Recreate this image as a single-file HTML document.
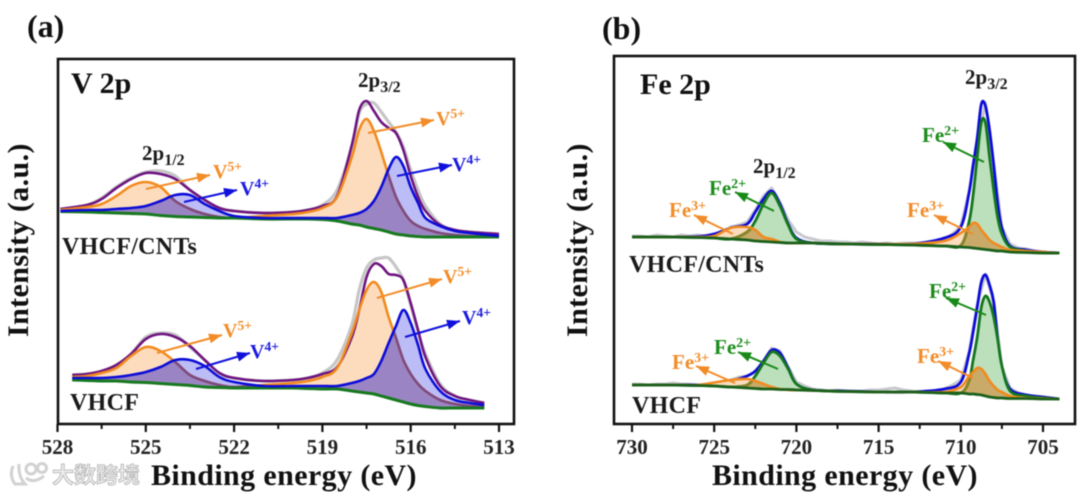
<!DOCTYPE html>
<html lang="en">
<head>
<meta charset="utf-8">
<title>XPS spectra: V 2p and Fe 2p</title>
<style>
html,body{margin:0;padding:0;background:#fff;width:1080px;height:495px;overflow:hidden}
svg{display:block;filter:blur(.4px)}
text{font-family:"Liberation Serif","Noto Sans CJK SC",serif;fill:#111}
.b{font-weight:bold}
.tick{font-size:21px;font-weight:bold;text-anchor:middle;fill:#222}
.title{font-size:30px;font-weight:bold;letter-spacing:.4px}
.sample{font-size:24px;font-weight:bold;fill:#1a1a1a;letter-spacing:.3px}
.peak{font-size:21px;font-weight:bold;fill:#1a1a1a}
.peak tspan{font-size:16px}
.ion{font-size:20px;font-weight:bold}
.ion tspan{font-size:13.5px}
.fe{font-size:21px}
.fe tspan{font-size:14px}
.or{fill:#f28c28}.bl{fill:#1a1ae0}.gr{fill:#1c8c1c}
.wm{font-family:"Noto Sans CJK SC","WenQuanYi Zen Hei",sans-serif;font-size:22px;font-weight:bold;fill:#ececec;stroke:#b4b4b4;stroke-width:.8px}
</style>
</head>
<body>
<svg id="figure" xmlns="http://www.w3.org/2000/svg" width="1080" height="495" viewBox="0 0 1080 495">
  <defs>
    <marker id="head-orange" markerUnits="userSpaceOnUse" markerWidth="14" markerHeight="10" refX="13" refY="5" orient="auto"><path d="M0 0L13 5L0 10Z" fill="#f28c28"/></marker>
    <marker id="head-blue" markerUnits="userSpaceOnUse" markerWidth="14" markerHeight="10" refX="13" refY="5" orient="auto"><path d="M0 0L13 5L0 10Z" fill="#1010dc"/></marker>
    <marker id="head-green" markerUnits="userSpaceOnUse" markerWidth="14" markerHeight="10" refX="13" refY="5" orient="auto"><path d="M0 0L13 5L0 10Z" fill="#178a17"/></marker>
  </defs>
  <g id="plots"></g>

  <g>
    <text class="b" x="27" y="37" font-size="32">(a)</text>
    <text class="b" x="71" y="93" font-size="30">V 2p</text>
    <text class="peak" x="142" y="160">2p<tspan dy="5">1/2</tspan></text>
    <text class="peak" x="358" y="87">2p<tspan dy="5">3/2</tspan></text>
    <text class="sample" x="62" y="254">VHCF/CNTs</text>
    <text class="sample" x="70" y="410">VHCF</text>
    <text class="title" transform="translate(28,337) rotate(-90)">Intensity (a.u.)</text>
    <text class="title" x="151" y="485">Binding energy (eV)</text>

    <text class="ion or" x="213" y="178">V<tspan dy="-7">5+</tspan></text>
    <text class="ion bl" x="240" y="195">V<tspan dy="-7">4+</tspan></text>
    <text class="ion or" x="436" y="125">V<tspan dy="-7">5+</tspan></text>
    <text class="ion bl" x="452" y="171">V<tspan dy="-7">4+</tspan></text>
    <text class="ion or" x="223" y="337">V<tspan dy="-7">5+</tspan></text>
    <text class="ion bl" x="250" y="358">V<tspan dy="-7">4+</tspan></text>
    <text class="ion or" x="443" y="283">V<tspan dy="-7">5+</tspan></text>
    <text class="ion bl" x="462" y="324">V<tspan dy="-7">4+</tspan></text>

    <line x1="146" y1="189" x2="210" y2="175" stroke="#f28c28" stroke-width="2" marker-end="url(#head-orange)"/>
    <line x1="184" y1="202" x2="237" y2="190" stroke="#1010dc" stroke-width="2" marker-end="url(#head-blue)"/>
    <line x1="368" y1="133" x2="434" y2="120" stroke="#f28c28" stroke-width="2" marker-end="url(#head-orange)"/>
    <line x1="397" y1="176" x2="452" y2="165" stroke="#1010dc" stroke-width="2" marker-end="url(#head-blue)"/>
    <line x1="157" y1="353" x2="222" y2="335" stroke="#f28c28" stroke-width="2" marker-end="url(#head-orange)"/>
    <line x1="196" y1="369" x2="250" y2="353" stroke="#1010dc" stroke-width="2" marker-end="url(#head-blue)"/>
    <line x1="377" y1="298" x2="442" y2="279" stroke="#f28c28" stroke-width="2" marker-end="url(#head-orange)"/>
    <line x1="405" y1="337" x2="460" y2="321" stroke="#1010dc" stroke-width="2" marker-end="url(#head-blue)"/>
  </g>

  <g>
    <text class="b" x="602" y="39" font-size="32">(b)</text>
    <text class="b" x="640" y="94" font-size="30">Fe 2p</text>
    <text class="peak" x="753" y="173">2p<tspan dy="5">1/2</tspan></text>
    <text class="peak" x="965" y="84">2p<tspan dy="5">3/2</tspan></text>
    <text class="sample" x="629" y="272">VHCF/CNTs</text>
    <text class="sample" x="632" y="413">VHCF</text>
    <text class="title" transform="translate(587,337) rotate(-90)">Intensity (a.u.)</text>
    <text class="title" x="712" y="485">Binding energy (eV)</text>

    <text class="ion fe gr" x="709" y="195">Fe<tspan dy="-7">2+</tspan></text>
    <text class="ion fe or" x="669" y="217">Fe<tspan dy="-7">3+</tspan></text>
    <text class="ion fe gr" x="922" y="142">Fe<tspan dy="-7">2+</tspan></text>
    <text class="ion fe or" x="907" y="217">Fe<tspan dy="-7">3+</tspan></text>
    <text class="ion fe gr" x="714" y="354">Fe<tspan dy="-7">2+</tspan></text>
    <text class="ion fe or" x="672" y="369">Fe<tspan dy="-7">3+</tspan></text>
    <text class="ion fe gr" x="929" y="298">Fe<tspan dy="-7">2+</tspan></text>
    <text class="ion fe or" x="917" y="363">Fe<tspan dy="-7">3+</tspan></text>

    <line x1="774" y1="211" x2="735" y2="192" stroke="#178a17" stroke-width="2" marker-end="url(#head-green)"/>
    <line x1="733" y1="234" x2="694" y2="215" stroke="#f28c28" stroke-width="2" marker-end="url(#head-orange)"/>
    <line x1="984" y1="162" x2="943" y2="142" stroke="#178a17" stroke-width="2" marker-end="url(#head-green)"/>
    <line x1="973" y1="234" x2="934" y2="215" stroke="#f28c28" stroke-width="2" marker-end="url(#head-orange)"/>
    <line x1="778" y1="369" x2="738" y2="352" stroke="#178a17" stroke-width="2" marker-end="url(#head-green)"/>
    <line x1="735" y1="383" x2="696" y2="366" stroke="#f28c28" stroke-width="2" marker-end="url(#head-orange)"/>
    <line x1="986" y1="315" x2="946" y2="298" stroke="#178a17" stroke-width="2" marker-end="url(#head-green)"/>
    <line x1="973" y1="378" x2="938" y2="361" stroke="#f28c28" stroke-width="2" marker-end="url(#head-orange)"/>
  </g>

  <g>
    <g fill="none" stroke="#d2d2d2" stroke-width="3">
      <path d="M13 466 Q9 476 15 484 L25 484 Q18 476 19 464"/>
      <circle cx="31" cy="469" r="5"/>
      <circle cx="42" cy="468" r="4.5"/>
      <path d="M26 478 Q34 484 44 476"/>
    </g>
    <text class="wm" x="52" y="483">大数跨境</text>
  </g>
</svg>

<script>
// ---------- Panel (a): V 2p ----------
const vEnergiesTop = [527.9,527,526.5,526,525.5,525,524.5,524,523.5,523,522.5,522,521,520,519.5,519,518.5,518,517.75,517.5,517.25,517,516.75,516.5,516.25,516,515.75,515.5,515,514.5,514,513];
const vEnergiesBottom = [527.5,527,526.5,526,525.5,525,524.5,524,523.5,523,522.5,522,521,520,519.5,519,518.5,518,517.75,517.5,517.25,517,516.75,516.5,516.25,516,515.75,515.5,515,514.5,514,513.5];

const vTopRaw = [215,219,226,237,246,252,253,248,234,224,216,213,211,212,214,219,234,277,311,320,321,312,302,292,277,254,234,218,200,194,192,190];
const vTopEnvelope = [215,219,225,236,245,251,250,245,234,224,216,213,211,212,214,218,228,279,314,323,313,302,296,291,274,248,227,213,199,194,192,190];
const vTopV5 = [214,217,220,228,238,242,237,223,215,210,207,206,208,210,212,216,227,267,294,305,293,272,248,227,213,203,198,195,191,189,188,187];
const vTopV4 = [213,214,214,215,216,218,223,229,229,220,213,208,206,206,206,206,206,209,211,215,223,237,255,267,258,237,221,206,198,193,191,188];
const vTopBackground = [212.5,212,211.5,211,210.5,210,208.5,207.5,207,206.5,206,206,205,205,205,204.5,203,200,199,197,195.5,194,192,190,189,188,187.5,187,187,187,187,187];

const vBottomRaw = [49,50,53,59,70,87,91,89,77,64,51,46,43,44,46,51,64,99,134,156,164,166,166,157,144,119,92,70,40,28,24,21];
const vBottomEnvelope = [49,50,53,59,70,85,90,87,78,64,51,46,43,44,46,50,57,87,114,147,160,158,150,149,144,121,94,67,38,28,24,21];
const vBottomV5 = [47,48,51,56,68,77,73,62,49,43,39,37,39,41,43,47,56,91,114,134,142,132,107,86,64,50,40,33,24,20,18,17];
const vBottomV4 = [46,46,46,47,49,52,57,64,64,58,47,42,38,38,38,38,38,41,43,46,50,63,81,98,114,101,79,55,33,24,21,19];
const vBottomBackground = [44,43.5,43,43,42,41.5,40.5,39.5,38.5,37,36.5,36,36,36,35.5,35,35,33,32,31,30,28,26,24,22,20,18.5,17.5,16,16,16,16];

const vMajorTicks = [528,525,522,519,516,513];
const vMinorTicks = [526.5,523.5,520.5,517.5,514.5];
const vTickLabels = ["528","525","522","519","516","513"];

// ---------- Panel (b): Fe 2p ----------
const feEnergies = [730,728,726,725,724,723,722.5,722,721.5,721,720.5,720,719,717,715,713,711,710,709.5,709.25,709,708.75,708.5,708.25,708,707.75,707.5,707,706,705,704];
const feRawEnergies = [730,729.5,729,728.5,728,727.5,727,726.5,726,725.5,725,724.5,724,723.5,723,722.5,722,721.5,721,720.5,720,719.5,719,718.5,718,717.5,717,716.5,716,715.5,715,714.5,714,713.5,713,712.5,712,711.5,711,710.5,710,709.5,709,708.5,708,707.5,707,706.5,706,705.5,705,704.5,704];

const feTopRaw = [188,188,187,189,188,187,189,188,189,188,190,190,197,199,202,214,228,236,222,204,192,187,185,183,183,182,182,181,182,181,180,181,180,181,181,180,181,181,185,190,198,232,282,321,260,197,180,176,175,173,172,171,171];
const feTopEnvelope = [187,187,187.5,190,196,200,212,225,233,220,200,186,181,180,180,180,186,197,231,259,286,320,318,294,259,220,196,178,174,172,171];
const feTopFe2 = [187,187,186.5,186,185,192,203,220,231,218,199,185,181,180,179.5,179,178,178.5,202,229,267,302,301,267,234,206,190,177,173,171,171];
const feTopFe3 = [187,187,187,188,196,197,194,187,185,182,181,181,181,180,180,180,183,191,197,201,200,194,189,184,181,179,177,174,173,172,171];
const feTopBackground = [187,187,186.5,186,185,184,183,182.5,182,181.5,181,181,181,180,179.5,179,178,177,176.5,176,175.5,175,174.5,174,173.5,173,173,172,171.5,171,171];

const feBottomRaw = [40,40,39,40,40,41,40,40,39,40,41,42,44,47,48,52,63,76,73,57,42,38,35,34,33,34,33,33,33,34,34,35,36,34,33,32,32,33,35,39,44,72,119,150,122,57,36,31,29,28,27,26,25];
const feBottomEnvelope = [39,39,39,40,43,48,53,63,74,71,56,40,34,33,32,32,35,42,70,92,117,142,149,139,122,84,57,35,29,27,25];
const feBottomFe2 = [39,39,38.5,38,37,39,48,61,72,68,55,40,34,32.5,32,32,31,31,43,64,87,117,128,122,107,84,58,33,28,26,25];
const feBottomFe3 = [39,39,39,41.5,44,45,43,40,37,35,34,34,33.5,32.5,32,32,32,37,48,52,56,55,50,43,38,34,32,28,26,25.5,25];
const feBottomBackground = [39,39,38.5,38,37,36,35.5,35,35,34.5,34.5,34,33.5,32.5,32,32,31,31,30,30,29.5,29,28,27,26.5,26,26,25.5,25.5,25,25];

const feMajorTicks = [730,725,720,715,710,705];
const feMinorTicks = [727.5,722.5,717.5,712.5,707.5];
const feTickLabels = ["730","725","720","715","710","705"];

// ---------- Axis functions ----------
function xV(e){ return 57.5 + (528 - e) * (499 - 57.5) / 15; }
function yV(v){ return 424 - v * (424 - 59) / 365; }
function xFe(e){ return 632 + (730 - e) * (1043 - 632) / 25; }
function yFe(v){ return 424 - v * (424 - 56) / 368; }

const SVG_NS = "http://www.w3.org/2000/svg";
const layer = document.getElementById("plots");
const defs = document.querySelector("#figure defs");
let clipCounter = 0;

function pts(energies, values, fx, fy){
  const out = [];
  const n = Math.min(energies.length, values.length);
  for (let i = 0; i < n; i++) out.push([fx(energies[i]), fy(values[i])]);
  return out;
}
function curveSeg(p){
  let d = "";
  for (let i = 0; i < p.length - 1; i++){
    const p0 = p[Math.max(i-1,0)], p1 = p[i], p2 = p[i+1], p3 = p[Math.min(i+2,p.length-1)];
    const c1x = p1[0] + (p2[0]-p0[0])/6, c1y = p1[1] + (p2[1]-p0[1])/6;
    const c2x = p2[0] - (p3[0]-p1[0])/6, c2y = p2[1] - (p3[1]-p1[1])/6;
    d += "C" + c1x.toFixed(2) + " " + c1y.toFixed(2) + " " + c2x.toFixed(2) + " " + c2y.toFixed(2) + " " + p2[0].toFixed(2) + " " + p2[1].toFixed(2);
  }
  return d;
}
function lineD(p){ return "M" + p[0][0].toFixed(2) + " " + p[0][1].toFixed(2) + curveSeg(p); }
function areaD(top, base){
  const rev = base.slice().reverse();
  return lineD(top) + "L" + rev[0][0].toFixed(2) + " " + rev[0][1].toFixed(2) + curveSeg(rev) + "Z";
}
function makePath(d, fill, stroke, width, name, clipId){
  const el = document.createElementNS(SVG_NS, "path");
  el.setAttribute("d", d);
  el.setAttribute("fill", fill);
  el.setAttribute("stroke", stroke);
  el.setAttribute("stroke-width", width);
  el.setAttribute("stroke-linejoin", "round");
  if (clipId) el.setAttribute("clip-path", "url(#" + clipId + ")");
  
  
  layer.appendChild(el);
  return el;
}
function makeClip(d){
  const id = "clip-" + (clipCounter++);
  const c = document.createElementNS(SVG_NS, "clipPath");
  c.setAttribute("id", id);
  const p = document.createElementNS(SVG_NS, "path");
  p.setAttribute("d", d);
  c.appendChild(p);
  defs.appendChild(c);
  return id;
}
function drawVSpectrum(prefix, energies, raw, env, v5, v4, bg){
  const pRaw = pts(energies, raw, xV, yV), pEnv = pts(energies, env, xV, yV);
  const p5 = pts(energies, v5, xV, yV), p4 = pts(energies, v4, xV, yV), pBg = pts(energies, bg, xV, yV);
  const a5 = areaD(p5, pBg), a4 = areaD(p4, pBg);
  const clip = makeClip(a4);
  makePath(lineD(pRaw), "none", "#c6c6c6", 3.2, prefix + "-raw-data");
  makePath(a5, "#fcdcbd", "none", 0, prefix + "-v5-fill");
  makePath(a4, "#bcbcf6", "none", 0, prefix + "-v4-fill");
  makePath(a5, "#9b84c4", "none", 0, prefix + "-overlap-fill", clip);
  makePath(lineD(pEnv), "none", "#6e1480", 2.6, prefix + "-envelope");
  makePath(lineD(p5), "none", "#f28a1e", 2.6, prefix + "-v5-line");
  makePath(lineD(p5), "none", "#7c4a80", 2.6, prefix + "-v5-line-overlap", clip);
  makePath(lineD(pBg), "none", "#17791f", 3, prefix + "-background");
  makePath(lineD(p4), "none", "#0c0cd8", 2.6, prefix + "-v4-line");
}
function drawFeSpectrum(prefix, raw, env, fe2, fe3, bg){
  const pRaw = pts(feRawEnergies, raw, xFe, yFe), pEnv = pts(feEnergies, env, xFe, yFe);
  const p2 = pts(feEnergies, fe2, xFe, yFe), p3 = pts(feEnergies, fe3, xFe, yFe), pBg = pts(feEnergies, bg, xFe, yFe);
  const a2 = areaD(p2, pBg), a3 = areaD(p3, pBg);
  const clip = makeClip(a3);
  let rawD = "M" + pRaw.map(function(q){ return q[0].toFixed(1) + " " + q[1].toFixed(1); }).join("L");
  makePath(rawD, "none", "#c8c8d0", 3, prefix + "-raw-data");
  makePath(lineD(pEnv), "none", "#0c0cd8", 2.8, prefix + "-envelope");
  makePath(a2, "#bcdfbc", "none", 0, prefix + "-fe2-fill");
  makePath(a3, "#fbdcbc", "none", 0, prefix + "-fe3-fill");
  makePath(a2, "#c9aa68", "none", 0, prefix + "-overlap-fill", clip);
  makePath(lineD(p2), "none", "#14761e", 2.8, prefix + "-fe2-line");
  makePath(lineD(p2), "none", "#8a8428", 2.8, prefix + "-fe2-line-overlap", clip);
  makePath(lineD(p3), "none", "#f28a1e", 2.6, prefix + "-fe3-line");
  makePath(lineD(pBg), "none", "#1b601b", 2.8, prefix + "-background");
}
function drawAxes(prefix, fx, left, top, right, bottom, majors, minors, labels){
  const frame = document.createElementNS(SVG_NS, "rect");
  frame.setAttribute("x", left);
  frame.setAttribute("y", top);
  frame.setAttribute("width", right - left);
  frame.setAttribute("height", bottom - top);
  frame.setAttribute("fill", "none");
  frame.setAttribute("stroke", "#111");
  frame.setAttribute("stroke-width", "2.6");
  
  
  layer.appendChild(frame);
  majors.forEach(function(t, i){
    const tk = document.createElementNS(SVG_NS, "line");
    tk.setAttribute("x1", fx(t));
    tk.setAttribute("x2", fx(t));
    tk.setAttribute("y1", bottom);
    tk.setAttribute("y2", bottom + 8);
    tk.setAttribute("stroke", "#111");
    tk.setAttribute("stroke-width", "2.2");
    
    
    layer.appendChild(tk);
    const lb = document.createElementNS(SVG_NS, "text");
    lb.setAttribute("x", fx(t));
    lb.setAttribute("y", 454);
    lb.setAttribute("class", "tick");
    lb.textContent = labels[i];
    
    
    layer.appendChild(lb);
  });
  minors.forEach(function(t){
    const tk = document.createElementNS(SVG_NS, "line");
    tk.setAttribute("x1", fx(t));
    tk.setAttribute("x2", fx(t));
    tk.setAttribute("y1", bottom);
    tk.setAttribute("y2", bottom + 5);
    tk.setAttribute("stroke", "#111");
    tk.setAttribute("stroke-width", "2");
    
    
    layer.appendChild(tk);
  });
}

drawVSpectrum("v-cnts", vEnergiesTop, vTopRaw, vTopEnvelope, vTopV5, vTopV4, vTopBackground);
drawVSpectrum("v-vhcf", vEnergiesBottom, vBottomRaw, vBottomEnvelope, vBottomV5, vBottomV4, vBottomBackground);
drawFeSpectrum("fe-cnts", feTopRaw, feTopEnvelope, feTopFe2, feTopFe3, feTopBackground);
drawFeSpectrum("fe-vhcf", feBottomRaw, feBottomEnvelope, feBottomFe2, feBottomFe3, feBottomBackground);
drawAxes("a", xV, 58, 59, 514, 424, vMajorTicks, vMinorTicks, vTickLabels);
drawAxes("b", xFe, 614, 56, 1075, 424, feMajorTicks, feMinorTicks, feTickLabels);
</script>
</body>
</html>
